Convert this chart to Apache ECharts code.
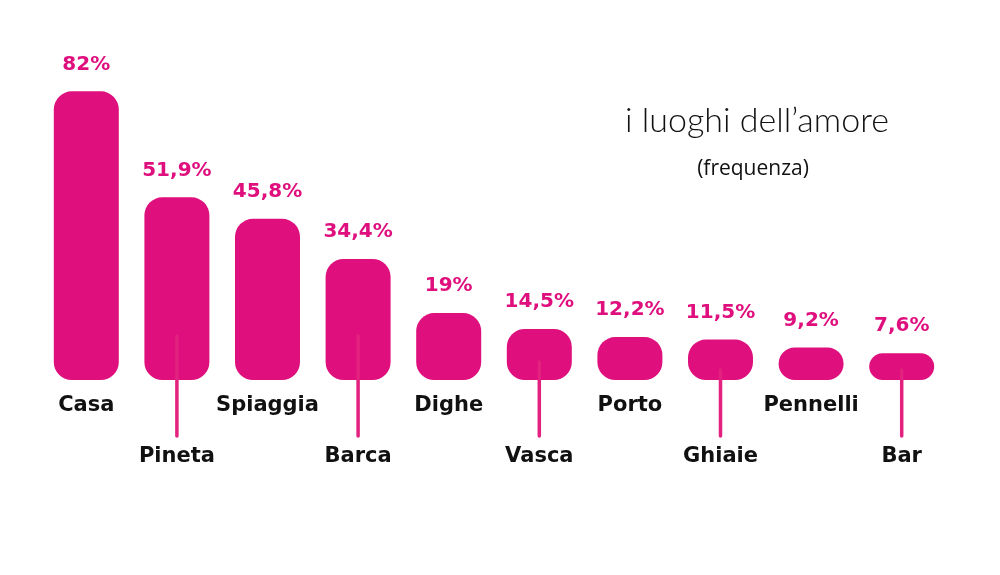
<!DOCTYPE html>
<html>
<head>
<meta charset="utf-8">
<script src="https://cdn.jsdelivr.net/npm/echarts@6/dist/echarts.min.js"></script>
<style>html,body{margin:0;padding:0;background:#fff;}#c{width:1000px;height:575px;}</style>
</head>
<body>
<div id="c"></div>
<script>
const categories = ['Casa','Pineta','Spiaggia','Barca','Dighe','Vasca','Porto','Ghiaie','Pennelli','Bar'];
const values = [82, 51.9, 45.8, 34.4, 19, 14.5, 12.2, 11.5, 9.2, 7.6];
const valueLabels = ['82%','51,9%','45,8%','34,4%','19%','14,5%','12,2%','11,5%','9,2%','7,6%'];
const titleText = 'i luoghi dell\u2019amore';
const subtitleText = '(frequenza)';

const MAG = '#DF0F7E';
const chart = echarts.init(document.getElementById('c'));
const leaderData = categories.map((c, i) => [i, values[i]]).filter((d, i) => i % 2 === 1);

chart.setOption({
  animation: false,
  backgroundColor: '#fff',
  title: [
    { text: titleText, left: 752, top: 99, textAlign: 'center',
      textStyle: { fontFamily: 'Lato', fontWeight: 300, fontSize: 34, color: '#111' } },
    { text: subtitleText, left: 748, top: 154, textAlign: 'center',
      textStyle: { fontFamily: 'Open Sans', fontWeight: 'normal', fontSize: 21, color: '#111' } }
  ],
  grid: { left: 41, right: 53, top: 28, bottom: 195, containLabel: false },
  xAxis: {
    type: 'category', data: categories,
    axisLine: { show: false }, axisTick: { show: false },
    axisLabel: {
      interval: 0, margin: 15,
      formatter: (v, i) => (i % 2 ? '{s|}\n{a|' + v + '}' : '{a|' + v + '}'),
      rich: {
        a: { fontFamily: 'DejaVu Sans', fontWeight: 'bold', fontSize: 21, lineHeight: 22, color: '#111' },
        s: { fontSize: 10, lineHeight: 51 }
      }
    }
  },
  yAxis: { type: 'value', min: 0, max: 100, show: false, splitLine: { show: false } },
  series: [
    {
      type: 'bar', data: values, barWidth: 65,
      itemStyle: { color: MAG, borderRadius: 18 },
      label: {
        show: true, position: 'top', distance: 17,
        formatter: p => valueLabels[p.dataIndex],
        fontFamily: 'DejaVu Sans', fontWeight: 'bold', fontSize: 20, color: MAG
      },
      z: 2
    },
    {
      type: 'custom', data: leaderData, z: 3,
      renderItem: (params, api) => {
        const base = api.coord([api.value(0), 0]);
        const top = api.coord([api.value(0), api.value(1)]);
        const h = base[1] - top[1];
        const start = Math.max(10, Math.min(44, h - 33));
        return {
          type: 'line',
          shape: { x1: base[0], y1: base[1] - start, x2: base[0], y2: base[1] + 56 },
          style: { stroke: '#E3217F', lineWidth: 3.5, lineCap: 'round' }
        };
      }
    }
  ]
});
</script>
</body>
</html>
